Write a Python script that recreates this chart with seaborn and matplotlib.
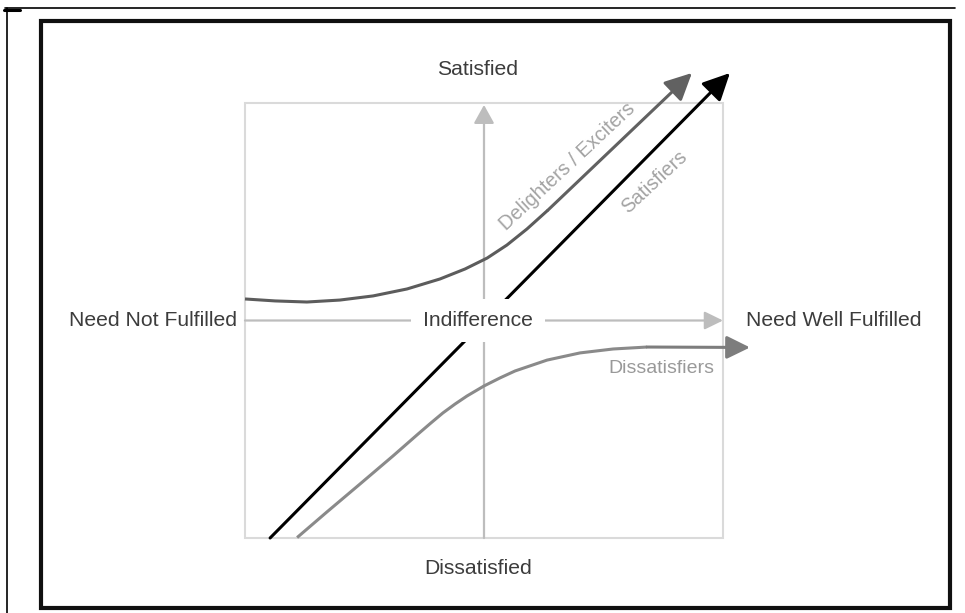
import numpy as np
import pandas as pd
import matplotlib
matplotlib.use('Agg')
import matplotlib.pyplot as plt
from matplotlib.patches import Rectangle
from matplotlib.lines import Line2D
import seaborn as sns

# Estilo
sns.set_theme(style='white')
plt.rcParams['font.family'] = ['Liberation Sans', 'DejaVu Sans']

# Curvas do modelo de Kano (x = realizacao da necessidade, y = satisfacao)
delighters_x = [-1.000, -0.874, -0.741, -0.603, -0.464, -0.322, -0.184, -0.079, 0.013, 0.096,
                0.180, 0.268, 0.870]
delighters_y = [0.099, 0.090, 0.085, 0.094, 0.113, 0.145, 0.191, 0.237, 0.287, 0.347,
                0.421, 0.508, 1.138]

satisfiers_x = [-0.895, 1.029]
satisfiers_y = [-1.000, 1.138]

dissatisfiers_x = [-0.782, -0.657, -0.519, -0.381, -0.276, -0.222, -0.172, -0.121, -0.071, 0.000,
                   0.067, 0.130, 0.264, 0.402, 0.540, 0.682, 1.113]
dissatisfiers_y = [-0.998, -0.880, -0.752, -0.623, -0.522, -0.471, -0.425, -0.384, -0.347, -0.301,
                   -0.264, -0.232, -0.182, -0.149, -0.131, -0.122, -0.124]

# Textos
axis_labels = ['Satisfied', 'Dissatisfied', 'Need Not Fulfilled', 'Need Well Fulfilled']
curve_labels = ['Delighters / Exciters', 'Satisfiers', 'Dissatisfiers']
center_label = 'Indifference'

fig = plt.figure(figsize=(9.65, 6.13), dpi=100)
ax = fig.add_axes([0, 0, 1, 1])
ax.set_xlim(-484 / 239, 481 / 239)
ax.set_ylim((320.5 - 613) / 217.5, 320.5 / 217.5)
ax.axis('off')

# Caixa cinza clara
ax.add_patch(Rectangle((-1, -1), 2, 2, fill=False, edgecolor='#dadada', lw=1.5, zorder=1))

# Eixos com setas
axis_col = '#bdbdbd'
ax.annotate('', xy=(0, 0.991), xytext=(0, -1),
            arrowprops=dict(arrowstyle='-|>,head_length=0.45,head_width=0.25', color=axis_col,
                            lw=1.6, mutation_scale=25, shrinkA=0, shrinkB=0), zorder=2)
ax.annotate('', xy=(1.0, 0), xytext=(-1, 0),
            arrowprops=dict(arrowstyle='-|>,head_length=0.45,head_width=0.22', color=axis_col,
                            lw=1.6, mutation_scale=25, shrinkA=0, shrinkB=0), zorder=2)

def draw_curve(xs, ys, color, head_color, lw, scale):
    df = pd.DataFrame({'x': xs[:-1], 'y': ys[:-1]})
    sns.lineplot(data=df, x='x', y='y', sort=False, estimator=None, color=color, lw=lw, ax=ax,
                 zorder=3, solid_joinstyle='round', solid_capstyle='butt')
    ax.annotate('', xy=(xs[-1], ys[-1]), xytext=(xs[-2], ys[-2]),
                arrowprops=dict(arrowstyle='-|>,head_length=0.55,head_width=0.27', color=head_color,
                                lw=lw, mutation_scale=scale, shrinkA=0, shrinkB=0), zorder=3)

draw_curve(delighters_x, delighters_y, '#5c5c5c', '#616161', 2.2, 30)
draw_curve(satisfiers_x, satisfiers_y, '#111111', '#000000', 2.2, 30)
draw_curve(dissatisfiers_x, dissatisfiers_y, '#8a8a8a', '#7d7d7d', 2.2, 26)
ax.set_xlabel('')
ax.set_ylabel('')

# Rotulos principais
txt_col = '#3c3c3c'
fs = 15.2
ax.text(-0.025, 1.152, axis_labels[0], ha='center', va='center', fontsize=fs, color=txt_col)
ax.text(-0.025, -1.138, axis_labels[1], ha='center', va='center', fontsize=fs, color=txt_col)
ax.text(-1.387, 0.0, axis_labels[2], ha='center', va='center', fontsize=fs, color=txt_col)
ax.text(1.462, 0.0, axis_labels[3], ha='center', va='center', fontsize=fs, color=txt_col)
ax.text(-0.025, 0.0, center_label, ha='center', va='center', fontsize=fs, color=txt_col, zorder=5,
        bbox=dict(boxstyle='square,pad=0.55', facecolor='white', edgecolor='none'))

# Rotulos das curvas
lab_col = '#a3a3a3'
ax.text(0.351, 0.706, curve_labels[0], ha='center', va='center', fontsize=14.3, color=lab_col,
        rotation=43, rotation_mode='anchor')
ax.text(0.711, 0.637, curve_labels[1], ha='center', va='center', fontsize=14.3, color=lab_col,
        rotation=43, rotation_mode='anchor')
ax.text(0.743, -0.220, curve_labels[2], ha='center', va='center', fontsize=14, color='#999999')

# Molduras externas (coordenadas da figura)
W, H = 965, 613
fig.add_artist(Line2D([5 / W, 955 / W], [1 - 8 / H, 1 - 8 / H], color='black', lw=1.2,
                      transform=fig.transFigure))
fig.add_artist(Line2D([7 / W, 7 / W], [1 - 8 / H, 0], color='black', lw=1.2,
                      transform=fig.transFigure))
fig.add_artist(Line2D([4 / W, 20 / W], [1 - 9.5 / H, 1 - 9.5 / H], color='black', lw=2.2,
                      transform=fig.transFigure))
fig.add_artist(Rectangle((41 / W, 1 - 608 / H), (950 - 41) / W, (608 - 21) / H, fill=False,
                         edgecolor='#101010', lw=3, transform=fig.transFigure))

plt.savefig('out.png', dpi=100)
